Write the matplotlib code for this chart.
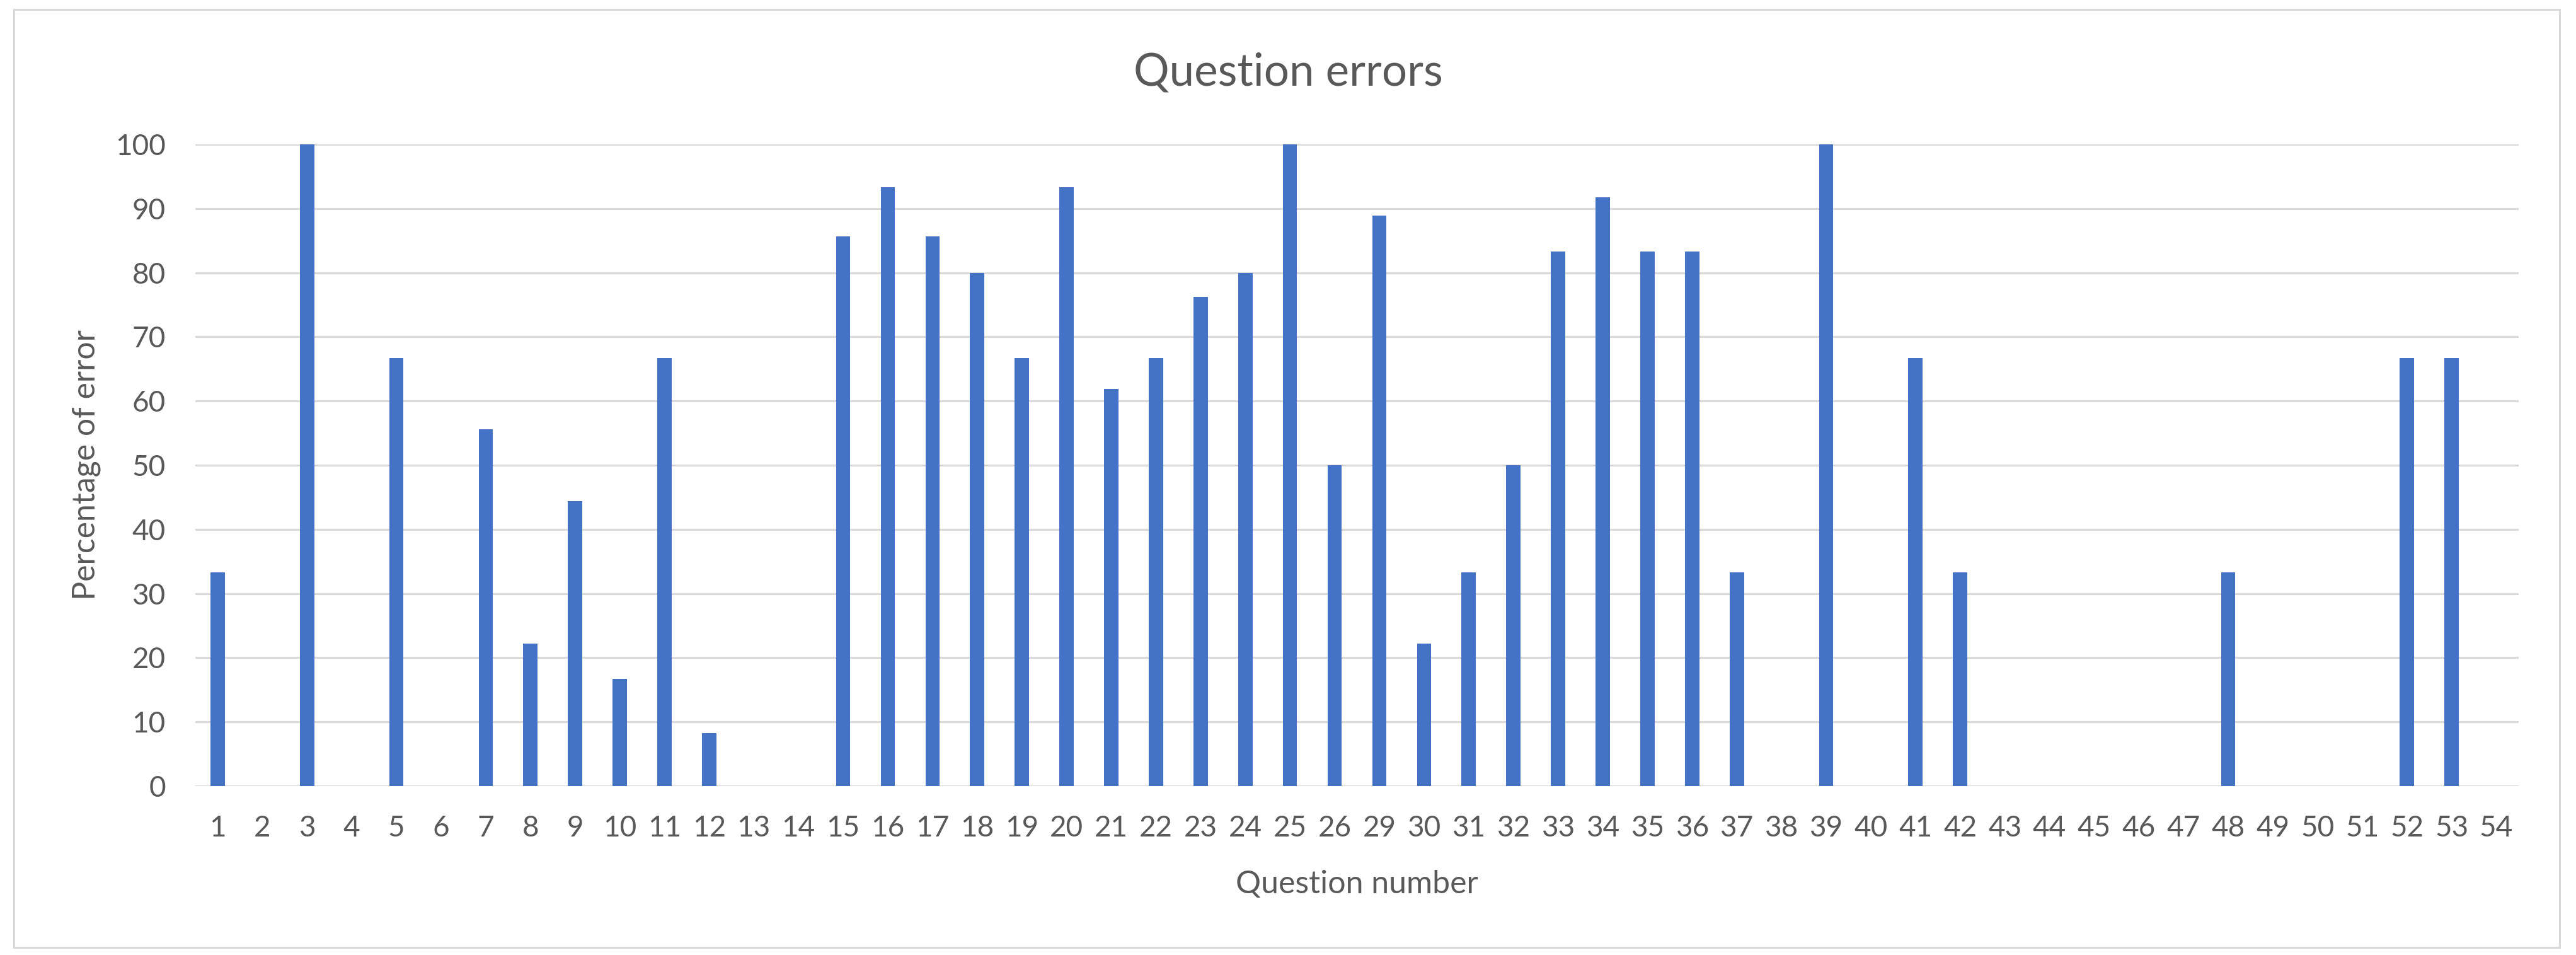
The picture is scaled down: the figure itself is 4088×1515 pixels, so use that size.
import matplotlib
matplotlib.use("Agg")
import matplotlib.pyplot as plt
from matplotlib.patches import Rectangle

# ---- data ----
questions = ["1", "2", "3", "4", "5", "6", "7", "8", "9", "10", "11", "12", "13", "14",
             "15", "16", "17", "18", "19", "20", "21", "22", "23", "24", "25", "26",
             "29", "30", "31", "32", "33", "34", "35", "36", "37", "38", "39", "40",
             "41", "42", "43", "44", "45", "46", "47", "48", "49", "50", "51", "52",
             "53", "54"]
error_pct = [33.3, 0, 100, 0, 66.7, 0, 55.6, 22.2, 44.4, 16.7, 66.7, 8.3, 0, 0,
             85.7, 93.3, 85.7, 80.0, 66.7, 93.3, 61.9, 66.7, 76.2, 80.0, 100, 50.0,
             88.9, 22.2, 33.3, 50.0, 83.3, 91.7, 83.3, 83.3, 33.3, 0, 100, 0,
             66.7, 33.3, 0, 0, 0, 0, 0, 33.3, 0, 0, 0, 66.7,
             66.7, 0]
y_ticks = [0, 10, 20, 30, 40, 50, 60, 70, 80, 90, 100]

title = "Question errors"
x_label = "Question number"
y_label = "Percentage of error"

# ---- style ----
plt.rcParams['font.family'] = ['Lato', 'DejaVu Sans']
TEXT = "#595959"
GRID = "#D9D9D9"
BAR = "#4472C4"

W, H = 4088, 1515
fig = plt.figure(figsize=(W / 100, H / 100), dpi=100)
fig.patch.set_facecolor("white")

# chart border
fig.patches.append(Rectangle((22 / W, 1 - 1503 / H), (4062 - 22) / W, (1503 - 15) / H,
                             transform=fig.transFigure, fill=False,
                             edgecolor=GRID, linewidth=2.2))

ax = fig.add_axes([310 / W, 1 - 1247 / H, (3997 - 310) / W, (1247 - 229) / H])
xpos = list(range(len(questions)))
ax.bar(xpos, error_pct, width=0.32, color=BAR, zorder=3)

ax.set_xlim(-0.5, len(questions) - 0.5)
ax.set_ylim(0, 100)
ax.set_yticks(y_ticks)
ax.set_xticks(xpos)
ax.set_xticklabels(questions)
ax.yaxis.grid(True, color=GRID, linewidth=2.3, zorder=0)
ax.set_axisbelow(True)
for s in ax.spines.values():
    s.set_visible(False)
ax.tick_params(axis="both", length=0, labelsize=33, labelcolor=TEXT)
ax.tick_params(axis="x", pad=33)
ax.tick_params(axis="y", pad=34)

ax.set_xlabel(x_label, fontsize=36, color=TEXT, va="baseline")
ax.xaxis.set_label_coords(0.5, -0.167)
ax.set_ylabel(y_label, fontsize=36, color=TEXT, va="center")
ax.yaxis.set_label_coords(-0.047, 0.5)

fig.text(0.5, 1 - 136 / H, title, ha="center", va="baseline", fontsize=51, color=TEXT)

fig.savefig("out.png", dpi=100, facecolor="white")
